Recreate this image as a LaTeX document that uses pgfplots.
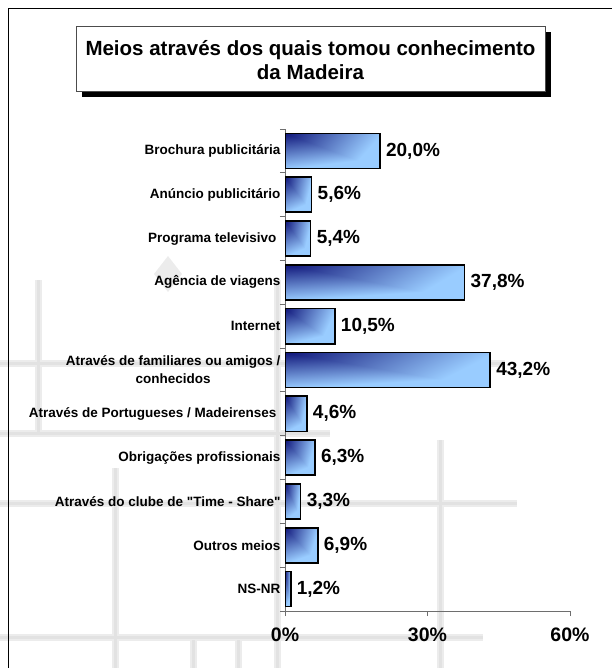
\documentclass[border=0pt]{standalone}
\usepackage{fontspec}
\setmainfont{Liberation Sans}[Ligatures=TeXOff]
\usepackage{pgfplots}
\pgfplotsset{compat=1.18}
\definecolor{axisgray}{RGB}{110,110,110}
\definecolor{decor}{RGB}{236,236,236}
\definecolor{decorcore}{RGB}{226,226,226}

% "from corner" fill: dark navy in the top-left corner, light blue towards bottom and right
\pgfdeclarefunctionalshading{cornershade}{\pgfpoint{0bp}{0bp}}{\pgfpoint{100bp}{100bp}}{}{
  75 exch sub 50 div
  exch 25 sub 50 div
  2 copy add 0.25 mul
  3 1 roll
  2 copy lt {exch} if pop
  0.5 mul add
  1.3 mul
  dup 0 lt {pop 0} if dup 1 gt {pop 1} if
  dup 137 mul 16 add 255 div exch
  dup 182 mul 22 add 255 div exch
  133 mul 122 add 255 div
}

\pgfplotsset{
  barstyle/.style={draw=black, line width=1.6bp, shading=cornershade, shading angle=0},
}

\begin{document}
\begin{tikzpicture}
\useasboundingbox (0,0) rectangle (612bp,-668bp);

% faint background drawing
\foreach \w/\c in {7bp/decor, 3bp/decorcore} {
\begin{scope}[\c, line width=\w]
\draw (38bp,-280bp) -- (38bp,-432bp);
\draw (115bp,-468bp) -- (115bp,-668bp);
\draw (277bp,-280bp) -- (277bp,-668bp);
\draw (193bp,-640bp) -- (193bp,-668bp);
\draw (238bp,-640bp) -- (238bp,-668bp);
\draw (440bp,-440bp) -- (440bp,-668bp);
\draw (0bp,-363bp) -- (505bp,-363bp);
\draw (0bp,-433bp) -- (330bp,-433bp);
\draw (0bp,-503bp) -- (517bp,-503bp);
\draw (0bp,-637bp) -- (483bp,-637bp);
\end{scope}
}
\fill[decor] (168bp,-256bp) -- (182bp,-274bp) -- (168bp,-292bp) -- (154bp,-274bp) -- cycle;

% outer frame
\draw[line width=1bp] (8bp,-668bp) -- (8bp,-8bp) -- (612bp,-8bp);

% title box with shadow
\fill[black] (82bp,-32bp) rectangle (551bp,-97bp);
\draw[fill=white, draw=black!70, line width=0.8bp] (76bp,-26bp) rectangle (545bp,-91bp);
\node[align=center, font=\bfseries\fontsize{20.5bp}{24bp}\selectfont] at (310.5bp,-60.5bp)
  {Meios através dos quais tomou conhecimento\\da Madeira};

\begin{axis}[
    at={(285bp,-611bp)}, anchor=south west,
    scale only axis, width=285bp, height=482bp,
    xmin=0, xmax=60, ymin=-0.5, ymax=10.5,
    axis x line*=bottom, axis y line*=left,
    axis line style={axisgray, line width=1bp},
    tick align=outside, major tick length=5bp,
    tick style={axisgray, line width=1bp},
    /pgf/number format/assume math mode=true,
    xtick={0,30,60},
    xticklabel={\pgfmathprintnumber{\tick}\%},
    xticklabel style={font=\bfseries\fontsize{19.5bp}{22bp}\selectfont, yshift=-8bp},
    ytick={-0.5,0.5,...,10.5}, yticklabels={},
    extra y ticks={0,1,2,3,4,5,6,7,8,9,10},
    extra y tick labels={NS-NR, Outros meios, Através do clube de "Time - Share",
        Obrigações profissionais, Através de Portugueses / Madeirenses\hspace{4bp},
        {Através de familiares ou amigos /\\conhecidos}, Internet,
        Agência de viagens, Programa televisivo\hspace{4bp},
        Anúncio publicitário, Brochura publicitária},
    extra y tick style={major tick length=0pt,
        yticklabel style={font=\bfseries\fontsize{13.5bp}{18bp}\selectfont, align=center, xshift=-1bp}},
    xbar, bar width=0.8, bar shift=0pt,
    point meta=x,
    nodes near coords={\pgfmathprintnumber[fixed,fixed zerofill,precision=1,use comma]{\pgfplotspointmeta}\%},
    every node near coord/.append style={font=\bfseries\fontsize{19bp}{22bp}\selectfont, anchor=west, black, xshift=2bp},
]
\addplot[barstyle] coordinates {(20.0,10)};
\addplot[barstyle] coordinates {(5.6,9)};
\addplot[barstyle] coordinates {(5.4,8)};
\addplot[barstyle] coordinates {(37.8,7)};
\addplot[barstyle] coordinates {(10.5,6)};
\addplot[barstyle] coordinates {(43.2,5)};
\addplot[barstyle] coordinates {(4.6,4)};
\addplot[barstyle] coordinates {(6.3,3)};
\addplot[barstyle] coordinates {(3.3,2)};
\addplot[barstyle] coordinates {(6.9,1)};
\addplot[barstyle] coordinates {(1.2,0)};
\end{axis}
\end{tikzpicture}
\end{document}
